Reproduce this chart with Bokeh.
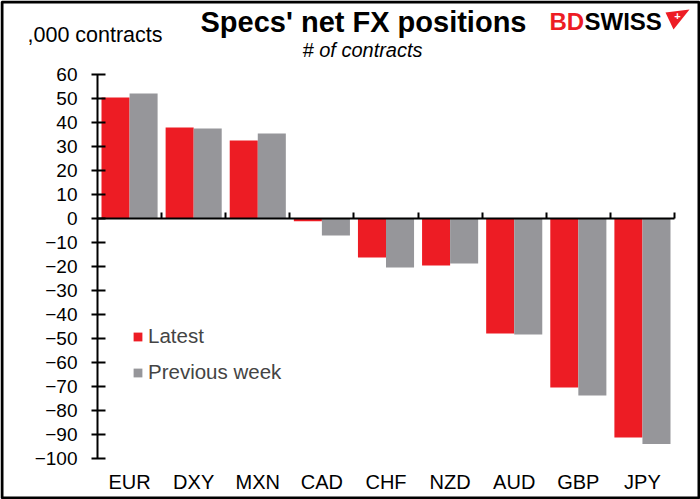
from bokeh.plotting import figure
from bokeh.models import (Range1d, LinearAxis, FixedTicker, Label, Legend,
                          LegendItem, ColumnDataSource, BoxAnnotation, PolyAnnotation)
from bokeh.embed import file_html
from bokeh.resources import INLINE

categories = ["EUR", "DXY", "MXN", "CAD", "CHF", "NZD", "AUD", "GBP", "JPY"]
latest = [50.4, 37.9, 32.5, -1.1, -16.3, -19.6, -47.9, -70.4, -91.3]
previous_week = [52.1, 37.5, 35.4, -7.1, -20.4, -18.8, -48.3, -73.8, -94.0]
y_ticks = list(range(-100, 61, 10))
Y_MIN, Y_MAX = -100, 60

FONT = "Liberation Sans"
RED = "#ED1C24"
GREY = "#96969A"
BW = 0.4375

W, H = 700, 499
FL, FR, FT, FB = 97, 674, 74, 458  # plot area edges in canvas px

n = len(categories)
centers = [i + 0.5 for i in range(n)]
src = ColumnDataSource(dict(
    cat=categories,
    x_latest=[c - BW / 2 for c in centers],
    x_prev=[c + BW / 2 for c in centers],
    latest=latest, prev=previous_week))

# ranges extended so the drawing area covers the whole canvas
xpu = (FR - FL) / n
ypu = (FB - FT) / (Y_MAX - Y_MIN)
x_range = Range1d(-FL / xpu, n + (W - FR) / xpu)
y_range = Range1d(Y_MIN - (H - FB) / ypu, Y_MAX + FT / ypu)

p = figure(width=W, height=H, x_range=x_range, y_range=y_range,
           output_backend="svg", toolbar_location=None,
           x_axis_location=None, y_axis_location=None, min_border=0)
p.outline_line_color = None
p.grid.visible = False
p.background_fill_color = "white"
p.border_fill_color = "white"

r1 = p.vbar(x="x_latest", top="latest", width=BW, source=src, fill_color=RED, line_color=None)
r2 = p.vbar(x="x_prev", top="prev", width=BW, source=src, fill_color=GREY, line_color=None)

# y axis
yax = LinearAxis(fixed_location=0, bounds=(Y_MIN, Y_MAX), ticker=FixedTicker(ticks=y_ticks))
yax.major_label_text_font = FONT
yax.major_label_text_font_size = "19px"
yax.major_label_text_color = "black"
yax.axis_line_color = "black"
yax.axis_line_width = 2
yax.major_tick_line_width = 2
yax.major_tick_in = 8
yax.major_tick_out = 6
yax.minor_tick_line_color = None
yax.major_label_standoff = 14
p.add_layout(yax, "left")

# category labels at bottom
xax = LinearAxis(fixed_location=Y_MIN, ticker=FixedTicker(ticks=centers))
xax.major_label_overrides = {c: cat for c, cat in zip(centers, categories)}
xax.axis_line_color = None
xax.major_tick_line_color = None
xax.minor_tick_line_color = None
xax.major_label_text_font = FONT
xax.major_label_text_font_size = "20px"
xax.major_label_text_color = "black"
xax.major_label_standoff = 6
p.add_layout(xax, "below")

# zero axis with boundary ticks
zax = LinearAxis(fixed_location=0, bounds=(0, n),
                 ticker=FixedTicker(ticks=list(range(1, n + 1))))
zax.axis_line_color = "black"
zax.axis_line_width = 2
zax.major_tick_line_width = 2
zax.major_tick_in = 6
zax.major_tick_out = 0
zax.minor_tick_line_color = None
zax.major_label_text_font_size = "0px"
zax.major_label_text_alpha = 0
p.add_layout(zax, "below")

legend = Legend(items=[LegendItem(label="Latest", renderers=[r1]),
                       LegendItem(label="Previous week", renderers=[r2])],
                location=(132, H - 384), label_text_font=FONT, label_text_font_size="20.5px",
                glyph_width=11, glyph_height=11, label_height=22, spacing=12,
                padding=4, margin=0, border_line_color=None,
                background_fill_alpha=0, label_standoff=5)
p.add_layout(legend)

def sy(Y):
    return H - Y

def lab(text, X, Y, size, style="normal", color="black", align="left"):
    l = Label(x=X, y=sy(Y), x_units="screen", y_units="screen", text=text,
              text_font=FONT, text_font_size=size, text_font_style=style,
              text_color=color, text_align=align, text_baseline="middle")
    p.add_layout(l)

lab("Specs' net FX positions", 363, 21, "29px", "bold", align="center")
lab("# of contracts", 362, 49, "20px", "italic", align="center")
lab(",000 contracts", 27, 34, "21.5px")
lab("BD", 549, 21, "24px", "bold", color=RED)
lab("SWISS", 584, 21, "24px", "bold")

# logo mark
p.add_layout(PolyAnnotation(xs=[665, 689, 673], ys=[sy(12), sy(9), sy(29)],
                            xs_units="screen", ys_units="screen",
                            fill_color=RED, fill_alpha=1, line_color=None))
lab("+", 677, 15, "11px", "bold", color="white", align="center")

# outer border
p.add_layout(BoxAnnotation(left=1.5, right=W - 1.5, top=sy(1.5), bottom=sy(H - 1.5),
                           left_units="screen", right_units="screen",
                           top_units="screen", bottom_units="screen",
                           fill_alpha=0, line_color="black", line_width=3, line_alpha=1))

out = file_html(p, INLINE)
open("out.html", "w").write(out)
